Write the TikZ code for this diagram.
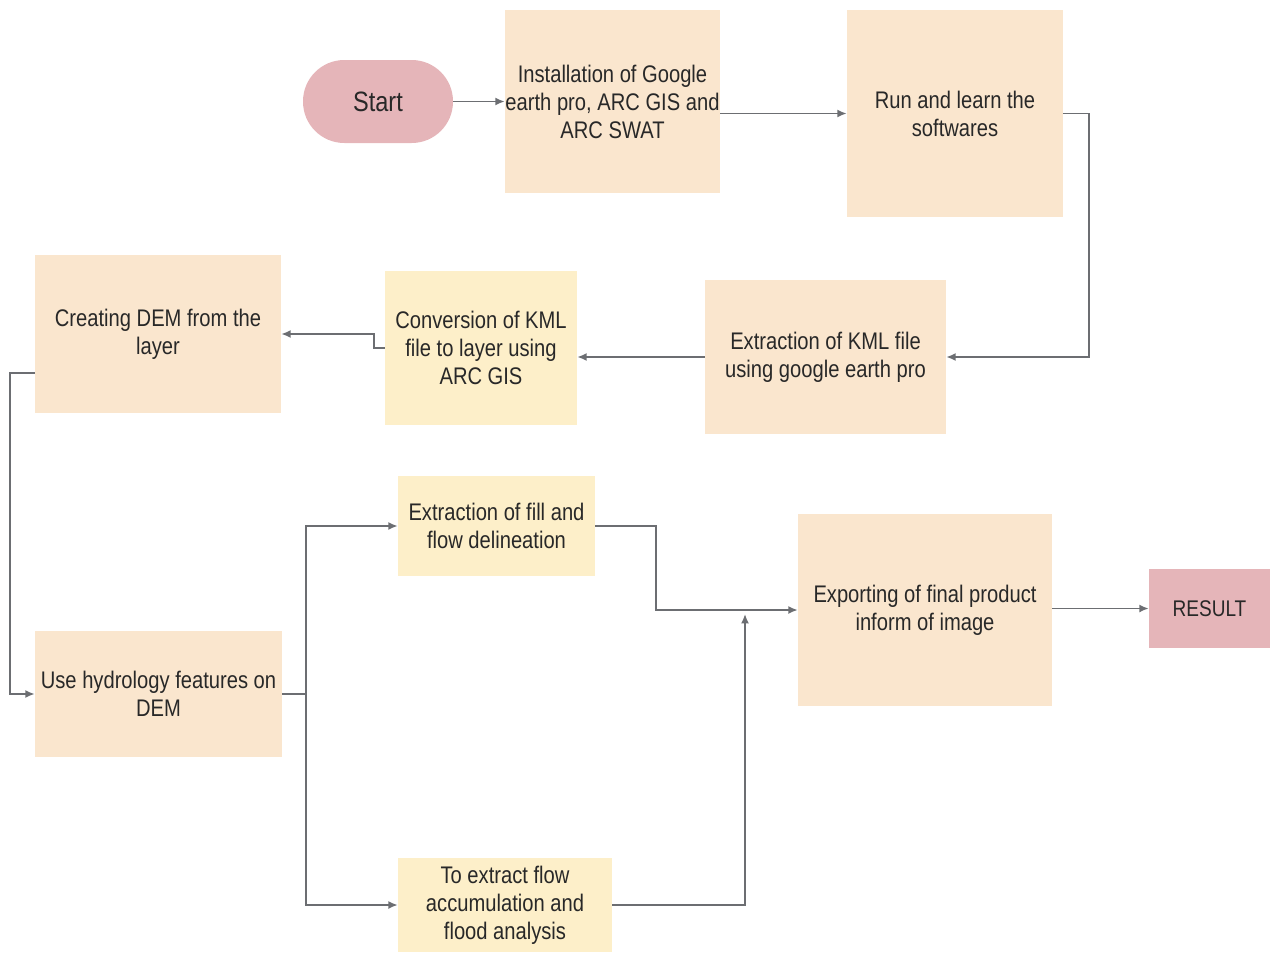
\documentclass[tikz,border=0pt]{standalone}
\usepackage{fontspec}
\setmainfont{Liberation Sans}[FakeStretch=0.84]
\usepackage{xcolor}
\usetikzlibrary{arrows.meta}

\definecolor{peach}{RGB}{250,230,206}
\definecolor{cream}{RGB}{253,239,201}
\definecolor{rosy}{RGB}{229,181,185}
\definecolor{wire}{RGB}{108,110,114}
\definecolor{ink}{RGB}{40,40,40}

\begin{document}
\begin{tikzpicture}[x=0.75pt,y=0.75pt,yscale=-1,xscale=1,
  box/.style={fill=peach,inner sep=0pt,align=center,text=ink,font=\fontsize{18}{21}\selectfont},
  ybox/.style={box,fill=cream},
  pill/.style={box,fill=rosy,rounded corners=31pt},
  arr/.style={draw=wire,line width=1.3pt,-{Latex[length=7pt,width=6pt]}}]

\useasboundingbox (0,0) rectangle (1270,953);

% top row
\node[pill,minimum width=112.5pt,minimum height=62.25pt,font=\fontsize{21}{24}\selectfont] (start) at (378,101.5) {Start};
\node[box,minimum width=161.25pt,minimum height=137.25pt] (install) at (612.5,101.5) {Installation of Google\\earth pro, ARC GIS and\\ARC SWAT};
\node[box,minimum width=162pt,minimum height=155.25pt] (learn) at (955,113.5) {Run and learn the\\softwares};

% second row
\node[box,minimum width=180.75pt,minimum height=115.5pt] (kml) at (825.5,357) {Extraction of KML file\\using google earth pro};
\node[ybox,minimum width=144pt,minimum height=115.5pt] (convert) at (481,348) {Conversion of KML\\file to layer using\\ARC GIS};
\node[box,minimum width=184.5pt,minimum height=118.5pt] (dem) at (158,334) {Creating DEM from the\\layer};

% lower part
\node[box,minimum width=185.25pt,minimum height=94.5pt] (hydro) at (158.5,694) {Use hydrology features on\\DEM};
\node[ybox,minimum width=147.75pt,minimum height=75pt] (fill) at (496.5,526) {Extraction of fill and\\flow delineation};
\node[ybox,minimum width=160.5pt,minimum height=70.5pt] (accum) at (505,905) {To extract flow\\accumulation and\\flood analysis};
\node[box,minimum width=190.5pt,minimum height=144pt] (export) at (925,610) {Exporting of final product\\inform of image};
\node[pill,rounded corners=0pt,minimum width=90.75pt,minimum height=59.25pt,font=\fontsize{17}{20}\selectfont] (result) at (1209.5,608.5) {RESULT};

\coordinate (join) at (745,614);

% connectors
\draw[arr] (start) -- (install);
\draw[arr] (install.east |- learn.west) -- (learn.west);
\draw[arr] (learn.east) -- ++(26,0) |- (kml.east);
\draw[arr] (kml.west) -- (kml.west -| convert.east);
\draw[arr] (convert.west) -- ++(-11,0) |- (dem.east);
\draw[arr] (dem.west) ++(0,39) -- ++(-25,0) |- (hydro.west);
\draw[arr] (hydro.east) -- ++(24,0) |- (fill.west);
\draw[arr] (hydro.east) -- ++(24,0) |- (accum.west);
\draw[arr] (fill.east) -- ++(61,0) |- (export.west);
\draw[arr] (accum.east) -| (join);
\draw[arr] (export.east |- result.west) -- (result.west);
\end{tikzpicture}
\end{document}
